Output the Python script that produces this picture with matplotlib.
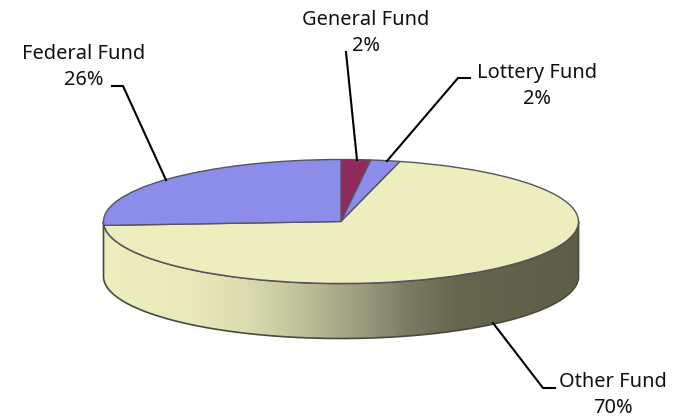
import matplotlib
matplotlib.use('Agg')
import matplotlib.pyplot as plt
from matplotlib.colors import LinearSegmentedColormap
from matplotlib.patches import Polygon
import numpy as np

# Clockwise from 12 o'clock
funds = ['General Fund', 'Lottery Fund', 'Other Fund', 'Federal Fund']
shares = [2, 2, 70, 26]
slice_colors = ['#8E2B5C', '#8C8CEB', '#EDEDBE', '#8C8CEB']

W, H = 685, 417
CX, CY = 341, 221.5   # pie centre, pixels
RX, RY = 237.5, 62    # ellipse radii, pixels
DEPTH = 55 / RY       # side wall height in y units


def px(x, y):
    """Pixel position in the picture -> data coords of the squashed axes."""
    return (x - CX) / RX, (CY - y) / RY


fig = plt.figure(figsize=(W / 100, H / 100), dpi=100, facecolor='white')
ax = fig.add_axes([0, 0, 1, 1])

# Side wall with the left-to-right shading
t = np.linspace(np.pi, 2 * np.pi, 200)
top = np.column_stack([np.cos(t), np.sin(t)])
bottom = top[::-1] - [0, DEPTH]
wall = Polygon(np.vstack([top, bottom]), closed=True, facecolor='none',
               edgecolor='#4a4a3c', linewidth=1.2, zorder=3)
ax.add_patch(wall)

shade = LinearSegmentedColormap.from_list('wall', [
    (0.00, '#EDEDBE'), (0.18, '#E9E9BA'), (0.30, '#DCDCB0'), (0.41, '#C2C29C'),
    (0.54, '#9C9C80'), (0.64, '#7C7C64'), (0.75, '#66664F'), (1.00, '#5E5E48'),
])
img = ax.imshow(np.linspace(0, 1, 256)[None, :], cmap=shade, aspect='auto',
                extent=(-1, 1, -1 - DEPTH, 0), zorder=2)
img.set_clip_path(wall)

# Top face
wedges, _ = ax.pie(shares, colors=slice_colors, startangle=90, counterclock=False,
                   radius=1, center=(0, 0),
                   wedgeprops={'edgecolor': '#55555f', 'linewidth': 1.0, 'zorder': 4})
ax.set_aspect('auto')
ax.set_xlim(px(0, 0)[0], px(W, 0)[0])
ax.set_ylim(px(0, H)[1], px(0, 0)[1])
ax.axis('off')

# Leader lines: (pixel points) per fund
leaders = {
    'General Fund': [(346, 52), (357, 160)],
    'Lottery Fund': [(470, 78), (458, 78), (387, 161)],
    'Other Fund': [(555, 388), (543, 388), (493, 323)],
    'Federal Fund': [(112, 86), (123, 86), (166, 180)],
}
label_pos = {
    'General Fund': (366, 33),
    'Lottery Fund': (537, 86),
    'Other Fund': (613, 395),
    'Federal Fund': (84, 67),
}

for name, value in zip(funds, shares):
    pts = np.array([px(*p) for p in leaders[name]])
    ax.plot(pts[:, 0], pts[:, 1], color='black', linewidth=1.5, zorder=5,
            solid_joinstyle='round')
    lx, ly = px(*label_pos[name])
    ax.text(lx, ly, f'{name}\n{value}%', ha='center', va='center', fontsize=14.4,
            family='Noto Sans', color='#111111', linespacing=1.38, zorder=6)

fig.savefig('out.png', dpi=100)
